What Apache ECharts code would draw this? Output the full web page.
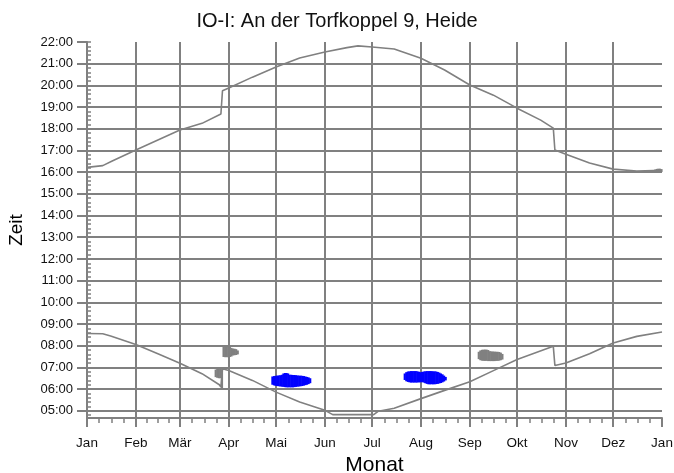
<!DOCTYPE html>
<html>
<head>
<meta charset="utf-8">
<script src="https://cdn.jsdelivr.net/npm/echarts@6/dist/echarts.min.js"></script>
<style>
  html, body { margin: 0; padding: 0; background: #fff; }
  #main { width: 674px; height: 473px; }
</style>
</head>
<body>
<div id="main"></div>
<script>
// month starts (day of year) and their labels
var monthStarts = [0, 31, 59, 90, 120, 151, 181, 212, 243, 273, 304, 334, 365];
var monthNames = ['Jan', 'Feb', 'Mär', 'Apr', 'Mai', 'Jun', 'Jul', 'Aug', 'Sep', 'Okt', 'Nov', 'Dez', 'Jan'];
var hourTicks = [5, 6, 7, 8, 9, 10, 11, 12, 13, 14, 15, 16, 17, 18, 19, 20, 21, 22];

// sunset (upper line): day of year, time in hours
var sunsetDays  = [0, 10, 16, 31, 45, 59, 73, 85, 86, 90, 105, 120, 135, 151, 165, 172, 181, 195, 212, 227, 243, 258, 273, 288, 296, 297, 304, 319, 334, 349, 365];
var sunsetTimes = [16.22, 16.30, 16.51, 17.02, 17.48, 17.94, 18.25, 18.68, 19.75, 19.88, 20.38, 20.85, 21.26, 21.54, 21.74, 21.82, 21.77, 21.68, 21.25, 20.71, 20.02, 19.55, 18.95, 18.40, 18.03, 17.02, 16.83, 16.42, 16.14, 16.05, 16.09];

// sunrise (lower line)
var sunriseDays  = [0, 10, 15, 31, 45, 59, 73, 84, 85, 86, 90, 105, 120, 135, 151, 156, 182, 185, 195, 212, 227, 243, 258, 273, 296, 297, 304, 319, 334, 349, 365];
var sunriseTimes = [8.56, 8.55, 8.45, 8.06, 7.63, 7.19, 6.71, 6.20, 6.09, 6.94, 6.86, 6.40, 5.86, 5.40, 5.02, 4.82, 4.82, 4.98, 5.12, 5.56, 5.94, 6.34, 6.85, 7.36, 7.97, 7.09, 7.20, 7.63, 8.12, 8.43, 8.63];

// shadow periods, blue
var blue1Days  = [117, 118, 119, 120, 121, 122, 123, 124, 125, 126, 127, 128, 129, 130, 131, 132, 133, 134, 135, 136, 137, 138, 139, 140, 141];
var blue1Start = [6.20, 6.17, 6.15, 6.14, 6.13, 6.12, 6.11, 6.10, 6.09, 6.08, 6.08, 6.08, 6.08, 6.08, 6.09, 6.10, 6.11, 6.12, 6.13, 6.14, 6.16, 6.18, 6.20, 6.23, 6.27];
var blue1End   = [6.58, 6.60, 6.61, 6.62, 6.63, 6.64, 6.66, 6.72, 6.74, 6.74, 6.72, 6.66, 6.66, 6.65, 6.65, 6.64, 6.63, 6.62, 6.62, 6.61, 6.60, 6.58, 6.56, 6.54, 6.50];

var blue2Days  = [201, 202, 203, 204, 205, 206, 207, 208, 209, 210, 211, 212, 213, 214, 215, 216, 217, 218, 219, 220, 221, 222, 223, 224, 225, 226, 227];
var blue2Start = [6.42, 6.36, 6.33, 6.31, 6.30, 6.30, 6.30, 6.30, 6.30, 6.31, 6.31, 6.32, 6.30, 6.27, 6.24, 6.22, 6.22, 6.22, 6.22, 6.22, 6.23, 6.24, 6.26, 6.28, 6.31, 6.35, 6.40];
var blue2End   = [6.72, 6.78, 6.81, 6.82, 6.83, 6.83, 6.83, 6.83, 6.82, 6.80, 6.78, 6.79, 6.81, 6.82, 6.83, 6.83, 6.83, 6.83, 6.82, 6.82, 6.81, 6.79, 6.76, 6.72, 6.68, 6.62, 6.56];

// shadow periods, gray
var gray1Days  = [81, 82, 83, 84, 85];
var gray1Start = [6.55, 6.52, 6.50, 6.50, 6.05];
var gray1End   = [6.90, 6.95, 6.96, 6.95, 6.92];

var gray2Days  = [86, 87, 88, 89, 90, 91, 92, 93, 94, 95];
var gray2Start = [7.48, 7.47, 7.47, 7.47, 7.48, 7.50, 7.55, 7.56, 7.57, 7.60];
var gray2End   = [7.96, 7.97, 7.97, 7.96, 7.95, 7.90, 7.87, 7.86, 7.84, 7.78];

var gray3Days  = [248, 249, 250, 251, 252, 253, 254, 255, 256, 257, 258, 259, 260, 261, 262, 263];
var gray3Start = [7.38, 7.33, 7.31, 7.30, 7.30, 7.30, 7.29, 7.29, 7.29, 7.29, 7.29, 7.30, 7.30, 7.31, 7.33, 7.36];
var gray3End   = [7.72, 7.78, 7.81, 7.82, 7.82, 7.82, 7.80, 7.75, 7.74, 7.73, 7.73, 7.72, 7.72, 7.71, 7.68, 7.62];

var gray4Days  = [360, 361, 362, 363, 364];
var gray4Start = [16.02, 16.01, 16.00, 16.00, 16.01];
var gray4End   = [16.12, 16.15, 16.16, 16.16, 16.14];

var GRID = '#808080';
var FONT = 'Liberation Sans';

function zip2(a, b) {
  return a.map(function (v, i) { return [v, b[i]]; });
}
function zip3(a, b, c) {
  return a.map(function (v, i) { return [v, b[i], c[i]]; });
}

// quarter-month minor ticks on x, 12 minute minor ticks on y
var xMinor = [];
for (var m = 0; m < monthStarts.length - 1; m++) {
  var len = monthStarts[m + 1] - monthStarts[m];
  for (var k = 0; k < 4; k++) xMinor.push(monthStarts[m] + k * len / 4);
}
xMinor.push(365);
var yMinor = [];
for (var h = 4.8; h <= 22.001; h += 0.2) yMinor.push(Math.round(h * 10) / 10);

function hhmm(v) {
  var hh = Math.round(v);
  return (hh < 10 ? '0' : '') + hh + ':00';
}

function blobSeries(name, color, days, start, end) {
  return {
    name: name,
    type: 'custom',
    silent: true,
    encode: { x: 0, y: [1, 2] },
    data: zip3(days, start, end),
    renderItem: function (params, api) {
      var d = api.value(0);
      var p0 = api.coord([d, api.value(2)]);
      var p1 = api.coord([d + 1, api.value(1)]);
      return {
        type: 'rect',
        shape: { x: p0[0], y: p0[1], width: p1[0] - p0[0] + 0.6, height: p1[1] - p0[1] },
        style: { fill: color }
      };
    },
    z: 3
  };
}

var chart = echarts.init(document.getElementById('main'));

var option = {
  animation: false,
  backgroundColor: '#fff',
  textStyle: { fontFamily: FONT },
  title: {
    text: 'IO-I: An der Torfkoppel 9, Heide',
    left: 'center',
    top: 6,
    textStyle: { fontFamily: FONT, fontSize: 20, fontWeight: 'normal', color: '#111' }
  },
  grid: { left: 87, right: 12, top: 42, bottom: 55, containLabel: false, outerBoundsMode: 'none' },
  xAxis: [{
    type: 'value',
    position: 'bottom',
    min: 0,
    max: 365,
    name: 'Monat',
    nameLocation: 'middle',
    nameGap: 34,
    nameTextStyle: { fontFamily: FONT, fontSize: 21, color: '#000' },
    axisLine: { show: true, lineStyle: { color: GRID, width: 2 } },
    axisTick: { show: true, length: 9, customValues: monthStarts, lineStyle: { color: GRID, width: 2 } },
    axisLabel: {
      customValues: monthStarts,
      margin: 18,
      fontSize: 13.5,
      color: '#111',
      fontFamily: FONT,
      formatter: function (v) { return monthNames[monthStarts.indexOf(Math.round(v))] || ''; }
    },
    splitLine: { show: true, showMinLine: false, showMaxLine: false, lineStyle: { color: GRID, width: 2 } }
  }, {
    type: 'value',
    position: 'bottom',
    min: 0,
    max: 365,
    axisLine: { show: false },
    axisTick: { show: true, length: 5, customValues: xMinor, lineStyle: { color: GRID, width: 1.5 } },
    axisLabel: { show: false },
    splitLine: { show: false }
  }],
  yAxis: [{
    type: 'value',
    position: 'left',
    min: 14 / 3,
    max: 22,
    name: 'Zeit',
    nameLocation: 'middle',
    nameRotate: 90,
    nameGap: 61,
    nameTextStyle: { fontFamily: FONT, fontSize: 19, color: '#000' },
    axisLine: { show: true, lineStyle: { color: GRID, width: 2 } },
    axisTick: { show: true, length: 10, customValues: hourTicks, lineStyle: { color: GRID, width: 2 } },
    axisLabel: {
      customValues: hourTicks,
      margin: 14,
      fontSize: 13,
      color: '#111',
      fontFamily: FONT,
      formatter: hhmm
    },
    splitLine: { show: true, showMaxLine: false, lineStyle: { color: GRID, width: 2 } }
  }, {
    type: 'value',
    position: 'left',
    min: 14 / 3,
    max: 22,
    axisLine: { show: false },
    axisTick: { show: true, inside: true, length: 4, customValues: yMinor, lineStyle: { color: GRID, width: 1.5 } },
    axisLabel: { show: false },
    splitLine: { show: false }
  }],
  series: [
    {
      name: 'Sonnenuntergang',
      type: 'line',
      data: zip2(sunsetDays, sunsetTimes),
      showSymbol: false,
      lineStyle: { color: GRID, width: 1.6 },
      z: 2
    },
    {
      name: 'Sonnenaufgang',
      type: 'line',
      data: zip2(sunriseDays, sunriseTimes),
      showSymbol: false,
      lineStyle: { color: GRID, width: 1.6 },
      z: 2
    },
    blobSeries('Schatten 1', '#0000ff', blue1Days, blue1Start, blue1End),
    blobSeries('Schatten 2', '#0000ff', blue2Days, blue2Start, blue2End),
    blobSeries('Schatten 3', GRID, gray1Days, gray1Start, gray1End),
    blobSeries('Schatten 4', GRID, gray2Days, gray2Start, gray2End),
    blobSeries('Schatten 5', GRID, gray3Days, gray3Start, gray3End),
    blobSeries('Schatten 6', GRID, gray4Days, gray4Start, gray4End)
  ]
};

chart.setOption(option);
</script>
</body>
</html>
